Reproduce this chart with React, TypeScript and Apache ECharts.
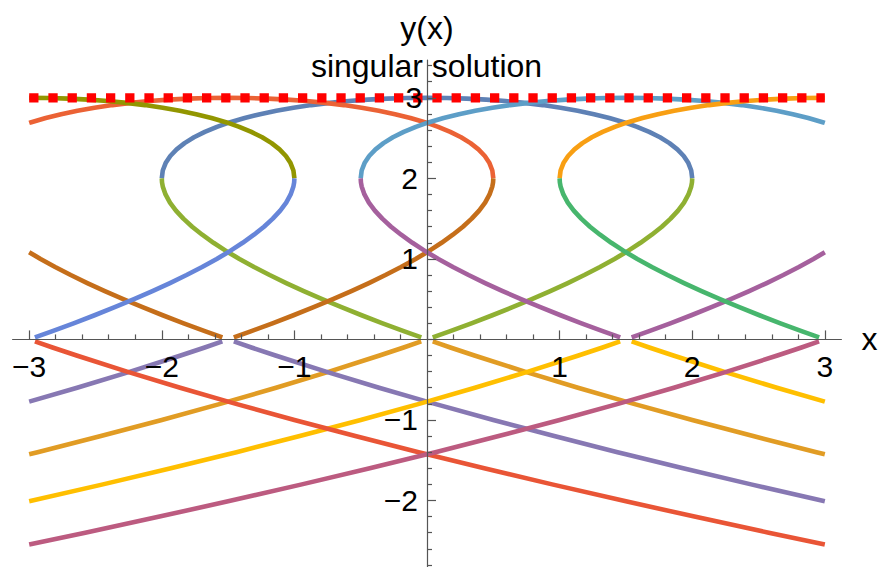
import React, { useEffect, useRef } from "react";
import * as echarts from "echarts";

// ---- data: solution profile |x - c| against y ----
// upper arcs (between the tangency with y = 3 and the vertical tangent at y = 2)
const arcY = [3, 2.9975, 2.99, 2.9775, 2.96, 2.9375, 2.91, 2.8775, 2.84, 2.7975, 2.75, 2.6975, 2.6888, 2.64, 2.5775, 2.51, 2.4375, 2.36, 2.2775, 2.19, 2.0975, 2];
const arcG = [0, 0.1499, 0.299, 0.4466, 0.592, 0.7344, 0.873, 1.0071, 1.136, 1.2589, 1.375, 1.4836, 1.5, 1.584, 1.6754, 1.757, 1.8281, 1.888, 1.9359, 1.971, 1.9926, 2];
// middle branches (from the x axis up to y = 2)
const midY = [0.025, 0.1, 0.2, 0.3, 0.4, 0.5, 0.6, 0.7, 0.8, 0.9, 1.0, 1.0835, 1.1, 1.2, 1.3, 1.4, 1.5, 1.6, 1.7, 1.8, 1.9, 1.95, 2];
const midG = [0.0431, 0.1703, 0.3347, 0.493, 0.645, 0.7906, 0.9295, 1.0616, 1.1866, 1.3042, 1.4142, 1.5, 1.5162, 1.61, 1.695, 1.7709, 1.8371, 1.8932, 1.9383, 1.9718, 1.9927, 1.9982, 2];
// lower branches (below the x axis)
const lowY = [-0.025, -0.1, -0.2, -0.4, -0.6, -0.7723, -0.8, -1.0, -1.2, -1.4, -1.426, -1.6, -1.8, -2.0101, -2.2, -2.4, -2.5475];
const lowG = [0.0435, 0.1761, 0.3578, 0.7376, 1.1384, 1.5, 1.5595, 2.0, 2.4593, 2.9367, 3.0, 3.4316, 3.9436, 4.5, 5.0168, 5.5771, 6.0];

// solution family members (centres on the x axis) and colours of their pieces
const centers = [0, -1.5, 1.5, -3, 3];
const arcColors = ["#5E81B5", "#EB6235", "#5D9EC7", "#929600", "#F89F13"];
const lowColors = ["#E19C24", "#8778B3", "#FFBF00", "#E95536", "#BC5B80"];
const midColors = ["#8FB032", "#C56E1A", "#A5609D", "#6685D9", "#47B66D"];

// singular solution y = 3
const singularX = [-3, 3];
const singularY = [3, 3];

// ticks
const xMajorTicks = [-3, -2, -1, 0, 1, 2, 3];
const xTickLabels = [-3, -2, -1, 1, 2, 3];
const xMinorTicks = [-2.8, -2.6, -2.4, -2.2, -1.8, -1.6, -1.4, -1.2, -0.8, -0.6, -0.4, -0.2, 0.2, 0.4, 0.6, 0.8, 1.2, 1.4, 1.6, 1.8, 2.2, 2.4, 2.6, 2.8];
const yMajorTicks = [-2, -1, 0, 1, 2, 3];
const yTickLabels = [-2, -1, 1, 2, 3];
const yMinorTicks = [-2.8, -2.6, -2.4, -2.2, -1.8, -1.6, -1.4, -1.2, -0.8, -0.6, -0.4, -0.2, 0.2, 0.4, 0.6, 0.8, 1.2, 1.4, 1.6, 1.8, 2.2, 2.4, 2.6, 2.8, 3.2, 3.4];

const X_MIN = -3.125;
const X_MAX = 3.125;
const Y_MIN = -2.826;
const Y_MAX = 3.47;
const PLOT_LIMIT = 3;

const W = 878;
const H = 567;
const GRID_LEFT = 12.6;
const GRID_RIGHT = 36.6;
const GRID_TOP = 60;
const GRID_BOTTOM = 0;

const FONT = "'Liberation Sans', Arial, Helvetica, sans-serif";
const AXIS_COLOR = "#555555";

// pixel position of the origin inside the grid, so the axes can cross at (0, 0)
const plotW = W - GRID_LEFT - GRID_RIGHT;
const plotH = H - GRID_TOP - GRID_BOTTOM;
const zeroXpx = GRID_LEFT + ((0 - X_MIN) / (X_MAX - X_MIN)) * plotW;
const zeroYpx = GRID_TOP + ((Y_MAX - 0) / (Y_MAX - Y_MIN)) * plotH;
const X_AXIS_OFFSET = zeroYpx - (H - GRID_BOTTOM); // negative: moves bottom axis up
const Y_AXIS_OFFSET = GRID_LEFT - zeroXpx; // negative: moves left axis right

function branch(c: number, dir: number, ys: number[], gs: number[]) {
  const pts: number[][] = [];
  for (let k = 0; k < ys.length; k++) {
    const x = c + dir * gs[k];
    if (Math.abs(x) <= PLOT_LIMIT + 1e-9) pts.push([x, ys[k]]);
  }
  return pts;
}

function lineSeries(data: number[][], color: string) {
  return {
    type: "line",
    data,
    showSymbol: false,
    symbol: "none",
    silent: true,
    clip: false,
    lineStyle: { color, width: 4.6, cap: "butt", join: "round" },
  };
}

function buildSeries() {
  const out: any[] = [];
  centers.forEach((c, i) => {
    const right = branch(c, 1, arcY, arcG).reverse();
    const left = branch(c, -1, arcY, arcG).slice(1);
    const arc = right.concat(left);
    if (arc.length > 1) out.push(lineSeries(arc, arcColors[i]));
    [1, -1].forEach((d) => {
      const p = branch(c, d, lowY, lowG);
      if (p.length > 1) out.push(lineSeries(p, lowColors[i]));
    });
    [1, -1].forEach((d) => {
      const p = branch(c, d, midY, midG);
      if (p.length > 1) out.push(lineSeries(p, midColors[i]));
    });
  });
  out.push({
    type: "line",
    data: singularX.map((x, k) => [x, singularY[k]]),
    showSymbol: false,
    symbol: "none",
    silent: true,
    z: 4,
    lineStyle: { color: "#FF0000", width: 9.3, type: [9.3, 9.9], cap: "butt" },
  });
  return out;
}

const minus = (v: number) => String(v).replace("-", "\u2212");

export default function App() {
  const ref = useRef<HTMLDivElement>(null);
  useEffect(() => {
    if (!ref.current) return;
    const chart = echarts.init(ref.current, undefined, { renderer: "svg" });
    const tickLine = { color: AXIS_COLOR, width: 1.2 };
    const nameStyle = { fontSize: 32, fontFamily: FONT, color: "#000" };
    chart.setOption({
      animation: false,
      backgroundColor: "#ffffff",
      grid: {
        left: GRID_LEFT,
        right: GRID_RIGHT,
        top: GRID_TOP,
        bottom: GRID_BOTTOM,
        containLabel: false,
        outerBoundsMode: "none",
      },
      xAxis: [
        {
          type: "value",
          position: "bottom",
          offset: X_AXIS_OFFSET,
          min: X_MIN,
          max: X_MAX,
          z: 5,
          name: "x",
          nameLocation: "end",
          nameGap: 20,
          nameTextStyle: nameStyle,
          axisLine: { show: true, onZero: false, lineStyle: tickLine },
          axisTick: { show: true, inside: true, length: 9, customValues: xMajorTicks, lineStyle: tickLine },
          axisLabel: {
            customValues: xTickLabels,
            formatter: minus,
            margin: 12,
            fontSize: 30,
            fontFamily: FONT,
            color: "#000",
          },
          splitLine: { show: false },
        },
        {
          type: "value",
          position: "bottom",
          offset: X_AXIS_OFFSET,
          min: X_MIN,
          max: X_MAX,
          z: 5,
          axisLine: { show: false, onZero: false },
          axisTick: { show: true, inside: true, length: 5, customValues: xMinorTicks, lineStyle: tickLine },
          axisLabel: { show: false },
          splitLine: { show: false },
        },
      ],
      yAxis: [
        {
          type: "value",
          position: "left",
          offset: Y_AXIS_OFFSET,
          min: Y_MIN,
          max: Y_MAX,
          z: 5,
          name: "y(x)",
          nameLocation: "end",
          nameGap: 16,
          nameTextStyle: nameStyle,
          axisLine: { show: true, onZero: false, lineStyle: tickLine },
          axisTick: { show: true, inside: true, length: 9, customValues: yMajorTicks, lineStyle: tickLine },
          axisLabel: {
            customValues: yTickLabels,
            formatter: (v: number) => (v === 3 ? "{top|3}" : minus(v)),
            margin: 9,
            fontSize: 30,
            fontFamily: FONT,
            color: "#000",
            rich: {
              top: { fontSize: 30, fontFamily: FONT, color: "#000", width: 12.5, align: "left" },
            },
          },
          splitLine: { show: false },
        },
        {
          type: "value",
          position: "left",
          offset: Y_AXIS_OFFSET,
          min: Y_MIN,
          max: Y_MAX,
          z: 5,
          axisLine: { show: false, onZero: false },
          axisTick: { show: true, inside: true, length: 5, customValues: yMinorTicks, lineStyle: tickLine },
          axisLabel: { show: false },
          splitLine: { show: false },
        },
      ],
      graphic: [
        {
          type: "text",
          x: 426.5,
          y: 66,
          z: 10,
          style: {
            text: "singular solution",
            fontSize: 32,
            fontFamily: FONT,
            fill: "#000",
            align: "center",
            verticalAlign: "middle",
          },
        },
      ],
      series: buildSeries(),
    });
    return () => chart.dispose();
  }, []);
  return (
    <div
      ref={ref}
      style={{ position: "fixed", left: 0, top: 0, width: W, height: H, background: "#fff" }}
    />
  );
}
